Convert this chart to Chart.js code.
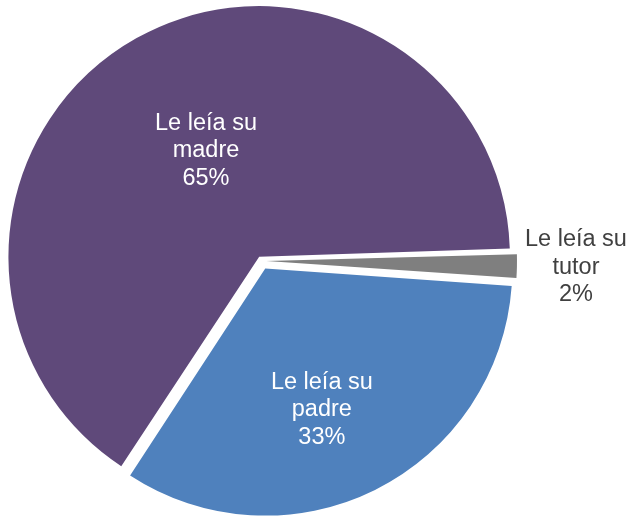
<!DOCTYPE html>
<html>
<head>
<meta charset="utf-8">
<script src="https://cdn.jsdelivr.net/npm/chart.js@4"></script>
<style>
  html, body { margin: 0; padding: 0; background: #ffffff; }
  #wrap { width: 629px; height: 517px; }
</style>
</head>
<body>
<div id="wrap"><canvas id="c" width="629" height="517"></canvas></div>
<script>
// ---- data ----
const categories = ["Le leía su madre", "Le leía su tutor", "Le leía su padre"];
const values = [65.3, 1.6, 33.1];

// ---- styles ----
const sliceColors = ["#5F497A", "#7F7F7F", "#4F81BD"];
const labelColors = ["#FFFFFF", "#404040", "#FFFFFF"];
const explodeOffsets = [19, 20, 33.7];
// label placement: fraction of radius from slice vertex, angle delta (deg) from mid-angle
const labelFrac = [0.464, 1.24, 0.615];
const labelAngleDelta = [2.8, 0, 4.6];

function wrapLabel(name) {
  const words = name.split(" ");
  return [words.slice(0, 3).join(" "), words.slice(3).join(" ")];
}

const labelPlugin = {
  id: "sliceLabels",
  afterDatasetsDraw(chart) {
    const ctx = chart.ctx;
    const meta = chart.getDatasetMeta(0);
    ctx.save();
    ctx.font = "23.5px 'Liberation Sans', Arial, sans-serif";
    ctx.textAlign = "center";
    ctx.textBaseline = "middle";
    const lh = 27.5;
    meta.data.forEach((arc, i) => {
      const circ = arc.endAngle - arc.startAngle;
      const half = (arc.startAngle + arc.endAngle) / 2;
      const off = explodeOffsets[i] / 4;
      const fix = 1 - Math.sin(Math.min(Math.PI, circ));
      const shift = off + off * fix;
      const vx = arc.x + Math.cos(half) * shift;
      const vy = arc.y + Math.sin(half) * shift;
      const ang = half + labelAngleDelta[i] * Math.PI / 180;
      const r = arc.outerRadius * labelFrac[i];
      const cx = vx + Math.cos(ang) * r;
      const cy = vy + Math.sin(ang) * r;
      const lines = wrapLabel(categories[i]).concat([Math.round(values[i]) + "%"]);
      ctx.fillStyle = labelColors[i];
      lines.forEach((t, k) => {
        ctx.fillText(t, cx, cy + (k - (lines.length - 1) / 2) * lh);
      });
    });
    ctx.restore();
  }
};

new Chart(document.getElementById("c"), {
  type: "pie",
  data: {
    labels: categories,
    datasets: [{
      data: values,
      backgroundColor: sliceColors,
      borderWidth: 0,
      offset: explodeOffsets,
      hoverOffset: 0,
      clip: false
    }]
  },
  options: {
    responsive: false,
    animation: false,
    events: [],
    rotation: 213.2,
    radius: 246,
    layout: { padding: { left: 0, right: 106, top: 5, bottom: 0 } },
    plugins: {
      legend: { display: false },
      tooltip: { enabled: false }
    }
  },
  plugins: [labelPlugin]
});
</script>
</body>
</html>
